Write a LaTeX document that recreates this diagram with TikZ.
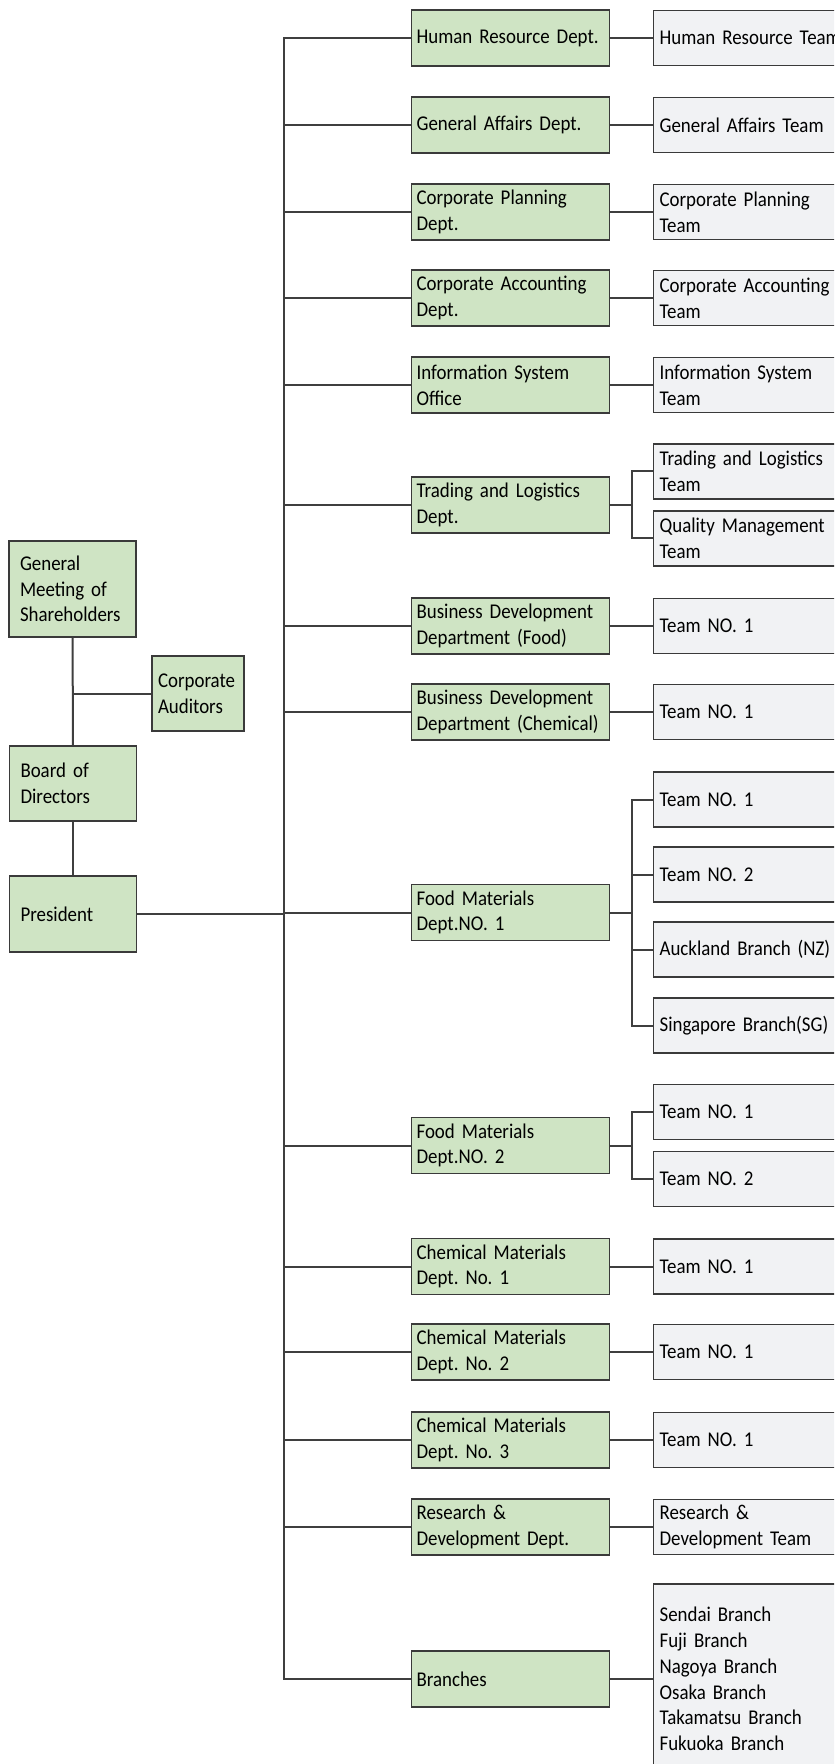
\documentclass[tikz,border=0pt]{standalone}
\usepackage{fontspec}
\setmainfont{Carlito}[FakeStretch=0.9, WordSpace=0.85]
\definecolor{deptgreen}{HTML}{CFE4C4}
\definecolor{teamgray}{HTML}{F1F2F4}
\definecolor{wire}{HTML}{3F3F3F}
\definecolor{rim}{HTML}{3A3A3A}
\hyphenpenalty=10000
\exhyphenpenalty=10000
\frenchspacing

\begin{document}
\begin{tikzpicture}[x=0.5pt, y=-0.5pt,
    every node/.style={draw=rim, line width=0.6pt, inner ysep=0pt, align=left,
        font=\fontsize{10.5}{12.85}\selectfont},
    head/.style={fill=deptgreen, text width=52.5pt, inner xsep=5.5pt},
    dept/.style={fill=deptgreen, anchor=west, minimum height=28pt, text width=94pt, inner xsep=2.5pt},
    team/.style={fill=teamgray, anchor=west, minimum height=27.5pt, text width=104pt, inner xsep=3pt},
    wires/.style={draw=wire, line width=1pt}]
        \useasboundingbox (0,0) rectangle (834,1764);
        \clip (0,0) rectangle (834,1764);

        % Vertice
        \node (GM) at (72.5,589) [head, minimum height=48pt] {General\\Meeting of\\Shareholders};
        \node (CA) at (198,693.5) [head, text width=40pt, inner xsep=3pt, minimum height=37.5pt] {Corporate\\Auditors};
        \node (BD) at (73,783.5) [head, minimum height=37.5pt] {Board of\\Directors};
        \node (P) at (73,914) [head, minimum height=38pt] {President};
        \coordinate (tr) at (284,914);

        % Dipartimenti
        \node (D1) at (411,38) [dept] {Human Resource Dept.};
        \node (D2) at (411,125) [dept] {General Affairs Dept.};
        \node (D3) at (411,212) [dept] {Corporate Planning\\Dept.};
        \node (D4) at (411,298) [dept] {Corporate Accounting\\Dept.};
        \node (D5) at (411,385) [dept] {Information System\\Office};
        \node (D6) at (411,505) [dept] {Trading and Logistics\\Dept.};
        \node (D7) at (411,626) [dept] {Business Development\\Department (Food)};
        \node (D8) at (411,712) [dept] {Business Development\\Department (Chemical)};
        \node (D9) at (411,912.5) [dept] {Food Materials\\Dept.NO. 1};
        \node (D10) at (411,1145.5) [dept] {Food Materials\\Dept.NO. 2};
        \node (D11) at (411,1266.5) [dept] {Chemical Materials\\Dept. No. 1};
        \node (D12) at (411,1352) [dept] {Chemical Materials\\Dept. No. 2};
        \node (D13) at (411,1440) [dept] {Chemical Materials\\Dept. No. 3};
        \node (D14) at (411,1527) [dept] {Research \&\\Development Dept.};
        \node (D15) at (411,1679) [dept] {Branches};

        % Team
        \node (T1) at (653,38) [team] {Human Resource Team};
        \node (T2) at (653,125) [team] {General Affairs Team};
        \node (T3) at (653,212) [team] {Corporate Planning\\Team};
        \node (T4) at (653,298) [team] {Corporate Accounting\\Team};
        \node (T5) at (653,385) [team] {Information System\\Team};
        \node (T6a) at (653,471.5) [team] {Trading and Logistics\\Team};
        \node (T6b) at (653,538.5) [team] {Quality Management\\Team};
        \node (T7) at (653,626) [team] {Team NO. 1};
        \node (T8) at (653,712) [team] {Team NO. 1};
        \node (T9a) at (653,799.5) [team] {Team NO. 1};
        \node (T9b) at (653,874.5) [team] {Team NO. 2};
        \node (T9c) at (653,949.5) [team] {Auckland Branch (NZ)};
        \node (T9d) at (653,1025.5) [team] {Singapore Branch(SG)};
        \node (T10a) at (653,1112) [team] {Team NO. 1};
        \node (T10b) at (653,1179) [team] {Team NO. 2};
        \node (T11) at (653,1266.5) [team] {Team NO. 1};
        \node (T12) at (653,1352) [team] {Team NO. 1};
        \node (T13) at (653,1440) [team] {Team NO. 1};
        \node (T14) at (653,1527) [team] {Research \&\\Development Team};
        \node (T15) at (653,1679) [team, minimum height=95pt] {Sendai Branch\\Fuji Branch\\Nagoya Branch\\Osaka Branch\\Takamatsu Branch\\Fukuoka Branch};

        \coordinate (j6) at (632,505);
        \coordinate (j9) at (632,912.5);
        \coordinate (j10) at (632,1145.5);

        % Collegamenti
        \draw[wires] (GM) -- (BD);
        \draw[wires] (BD) -- (P);
        \draw[wires] (CA) -- (CA -| GM);
        \draw[wires] (P) -- (tr);
        \draw[wires] (D1) -| (tr |- D15) -- (D15);
        \draw[wires] (tr |- D2) -- (D2);
        \draw[wires] (tr |- D3) -- (D3);
        \draw[wires] (tr |- D4) -- (D4);
        \draw[wires] (tr |- D5) -- (D5);
        \draw[wires] (tr |- D6) -- (D6);
        \draw[wires] (tr |- D7) -- (D7);
        \draw[wires] (tr |- D8) -- (D8);
        \draw[wires] (tr |- D9) -- (D9);
        \draw[wires] (tr |- D10) -- (D10);
        \draw[wires] (tr |- D11) -- (D11);
        \draw[wires] (tr |- D12) -- (D12);
        \draw[wires] (tr |- D13) -- (D13);
        \draw[wires] (tr |- D14) -- (D14);

        \draw[wires] (D1) -- (T1);
        \draw[wires] (D2) -- (T2);
        \draw[wires] (D3) -- (T3);
        \draw[wires] (D4) -- (T4);
        \draw[wires] (D5) -- (T5);
        \draw[wires] (D6) -- (j6);
        \draw[wires] (T6a.west) -| (j6 |- T6b) -- (T6b.west);
        \draw[wires] (D7) -- (T7);
        \draw[wires] (D8) -- (T8);
        \draw[wires] (D9) -- (j9);
        \draw[wires] (T9a.west) -| (j9 |- T9d) -- (T9d.west);
        \draw[wires] (j9 |- T9b) -- (T9b.west);
        \draw[wires] (j9 |- T9c) -- (T9c.west);
        \draw[wires] (D10) -- (j10);
        \draw[wires] (T10a.west) -| (j10 |- T10b) -- (T10b.west);
        \draw[wires] (D11) -- (T11);
        \draw[wires] (D12) -- (T12);
        \draw[wires] (D13) -- (T13);
        \draw[wires] (D14) -- (T14);
        \draw[wires] (D15) -- (T15);
    \end{tikzpicture}
\end{document}
